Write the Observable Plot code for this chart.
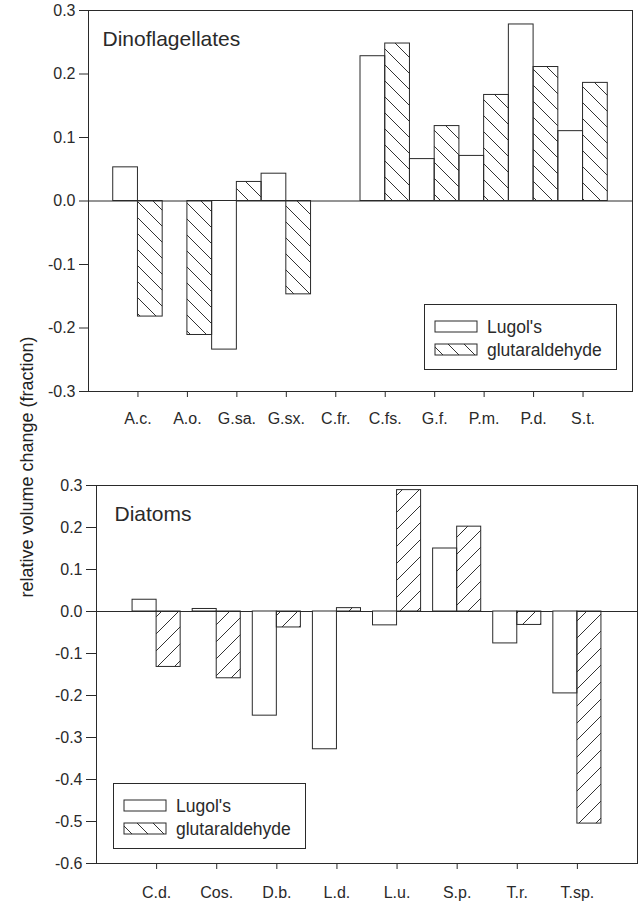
<!DOCTYPE html>
<html><head><meta charset="utf-8">
<script src="https://cdn.jsdelivr.net/npm/d3@7"></script>
<script src="https://cdn.jsdelivr.net/npm/@observablehq/plot@0.6"></script>
<style>
body{margin:0;background:#fff;}
#wrap{position:relative;width:638px;height:902px;overflow:hidden;font-family:"Liberation Sans",Arial,sans-serif;color:#222;}
.panel{position:absolute;left:0;}
#ytitle{position:absolute;left:27px;top:467px;transform:translate(-50%,-50%) rotate(-90deg);white-space:nowrap;font-size:18px;}
</style></head><body>
<div id="wrap">
<svg width="0" height="0" style="position:absolute">
<defs>
<pattern id="hatchBack" patternUnits="userSpaceOnUse" width="16" height="16"><path d="M0,0L16,16M-4,12L4,20M12,-4L20,4" stroke="#333" stroke-width="1" fill="none"/></pattern>
<pattern id="hatchFwd" patternUnits="userSpaceOnUse" width="17" height="17"><path d="M0,17L17,0M-4,4L4,-4M13,21L21,13" stroke="#333" stroke-width="1" fill="none"/></pattern>
</defs></svg>
<div id="ytitle">relative volume change (fraction)</div>
</div>
<script>
// ---- Data: Dinoflagellates (top panel)
const catsTop = ["A.c.","A.o.","G.sa.","G.sx.","C.fr.","C.fs.","G.f.","P.m.","P.d.","S.t."];
const lugolTop = [0.053, null, -0.234, 0.043, null, 0.228, 0.066, 0.071, 0.278, 0.110];
const glutTop  = [-0.182, -0.211, 0.030, -0.147, null, 0.248, 0.118, 0.167, 0.211, 0.186];
const yTicksTop = [-0.3, -0.2, -0.1, 0.0, 0.1, 0.2, 0.3];

// ---- Data: Diatoms (bottom panel)
const catsBot = ["C.d.","Cos.","D.b.","L.d.","L.u.","S.p.","T.r.","T.sp."];
const lugolBot = [0.028, 0.006, -0.248, -0.328, -0.033, 0.150, -0.076, -0.195];
const glutBot  = [-0.132, -0.159, -0.038, 0.008, 0.289, 0.202, -0.032, -0.505];
const yTicksBot = [-0.6, -0.5, -0.4, -0.3, -0.2, -0.1, 0.0, 0.1, 0.2, 0.3];

const seriesNames = ["Lugol's", "glutaraldehyde"];

function rows(cats, lug, glu) {
  const out = [];
  cats.forEach((c, i) => {
    if (lug[i] != null) out.push({cat: c, pos: i + 1, method: seriesNames[0], v: lug[i]});
    if (glu[i] != null) out.push({cat: c, pos: i + 1, method: seriesNames[1], v: glu[i]});
  });
  return out;
}

const font = '"Liberation Sans", Arial, sans-serif';
const ink = "#2a2a2a";

function panel(opts) {
  const data = rows(opts.cats, opts.lug, opts.glu);
  const bw = opts.barWidth;
  const L = data.filter(d => d.method === seriesNames[0]);
  const G = data.filter(d => d.method === seriesNames[1]);
  const positions = opts.cats.map((c, i) => i + 1);
  const svg = Plot.plot({
    width: 638,
    height: opts.height,
    marginTop: opts.mt, marginBottom: opts.mb, marginLeft: opts.ml, marginRight: opts.mr,
    style: {fontFamily: font, fontSize: "16px", color: ink, background: "transparent"},
    x: {domain: [0, opts.cats.length + 1]},
    y: {domain: opts.yDomain},
    marks: [
      Plot.frame({stroke: ink, strokeWidth: 1}),
      Plot.ruleY([0], {stroke: ink, strokeWidth: 1}),
      Plot.rect(L, {x1: d => d.pos - bw, x2: d => d.pos, y1: () => 0, y2: "v", fill: "white", stroke: ink, strokeWidth: 1}),
      Plot.rect(G, {x1: d => d.pos, x2: d => d.pos + bw, y1: () => 0, y2: "v", fill: opts.hatch, stroke: ink, strokeWidth: 1}),
      Plot.axisX({ticks: positions, tickFormat: i => opts.cats[i - 1], tickSize: 6, tickPadding: opts.xPad, label: null, fontSize: 16, stroke: ink}),
      Plot.axisY({ticks: opts.yTicks, tickFormat: d => d.toFixed(1), tickSize: opts.yTick, tickPadding: 4, label: null, fontSize: 16, stroke: ink}),
      Plot.text([opts.title], {frameAnchor: "top-left", text: d => d, dx: opts.tdx, dy: opts.tdy, textAnchor: "start", lineAnchor: "top", fontSize: 21, fill: ink})
    ]
  });
  // enforce tick label size
  d3.select(svg).selectAll("text").each(function() {
    const t = d3.select(this);
    if (t.text() !== opts.title) t.style("font-size", "16px");
    else t.style("font-size", "21px");
  });
  return svg;
}

function legend(left, top) {
  const w = 193, h = 66;
  const svg = d3.create("svg").attr("width", w).attr("height", h)
    .style("position", "absolute").style("left", left + "px").style("top", top + "px")
    .style("font-family", font).style("overflow", "visible");
  svg.append("rect").attr("x", 0.5).attr("y", 0.5).attr("width", w - 1).attr("height", h - 1)
    .attr("fill", "white").attr("stroke", ink);
  const fills = ["white", "url(#hatchBack)"];
  seriesNames.forEach((name, i) => {
    const yy = 17 + i * 23;
    svg.append("rect").attr("x", 11).attr("y", yy).attr("width", 42).attr("height", 11)
      .attr("fill", fills[i]).attr("stroke", ink);
    svg.append("text").attr("x", 63).attr("y", yy + 5.5).attr("dy", "0.35em")
      .attr("font-size", 17.5).attr("fill", ink).text(name);
  });
  return svg.node();
}

const wrap = document.getElementById("wrap");

const top1 = panel({
  cats: catsTop, lug: lugolTop, glu: glutTop, yTicks: yTicksTop, yDomain: [-0.3, 0.3],
  height: 430, mt: 10, mb: 39, ml: 88, mr: 6, barWidth: 0.5, hatch: "url(#hatchBack)",
  xPad: 15, yTick: 9, title: "Dinoflagellates", tdx: 14, tdy: 21
});
top1.classList.add("panel"); top1.style.top = "0px";
wrap.appendChild(top1);

const bot1 = panel({
  cats: catsBot, lug: lugolBot, glu: glutBot, yTicks: yTicksBot, yDomain: [-0.6, 0.3],
  height: 452, mt: 35, mb: 39, ml: 96, mr: 1, barWidth: 0.4, hatch: "url(#hatchFwd)",
  xPad: 17, yTick: 10, title: "Diatoms", tdx: 18, tdy: 21
});
bot1.classList.add("panel"); bot1.style.top = "450px";
wrap.appendChild(bot1);

wrap.appendChild(legend(424, 304));
wrap.appendChild(legend(113, 783));
</script>
</body></html>
